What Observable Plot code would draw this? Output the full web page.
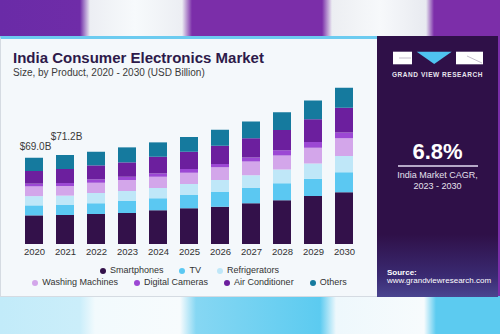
<!DOCTYPE html>
<html>
<head>
<meta charset="utf-8">
<script src="https://cdn.jsdelivr.net/npm/d3@7"></script>
<script src="https://cdn.jsdelivr.net/npm/@observablehq/plot@0.6"></script>
<style>
  html, body { margin: 0; padding: 0; }
  body { width: 500px; height: 334px; overflow: hidden; font-family: "Liberation Sans", Arial, sans-serif; }
  #root { position: relative; width: 500px; height: 334px; overflow: hidden; background: #7b2ea9; }
  .abs { position: absolute; }
  #topband { left: 0; top: 0; width: 500px; height: 37px;
    background: linear-gradient(90deg, #6a2ba7 0px, #6f2ca8 80px, #eceef3 90px, #f7fafc 135px, #eceef3 182px, #7b2ea9 192px, #7b2ea9 322px, #eceef2 332px, #f7f9fb 380px, #e8eaf0 426px, #7c2ea9 434px, #7c2ea9 500px); }
  #bottomband { left: 0; top: 296px; width: 500px; height: 38px;
    background: linear-gradient(90deg, #c2ebf9 0px, #cbeefa 80px, #f2fafd 95px, #f7fbfd 180px, #86d7f3 196px, #5ccbf0 320px, #eef8fc 336px, #f7fbfd 424px, #5ccbf0 436px, #5ccbf0 500px); }
  #card { left: 0; top: 36px; width: 377px; height: 261px; box-sizing: border-box;
    background: #f4f8fb; border-top: 3px solid #6ccbf0; border-left: 1px solid #d5dbe2; border-bottom: 1px solid #d5dbe2; }
  #panel { left: 377px; top: 36px; width: 121px; height: 261px;
    background: linear-gradient(180deg, #2f1048 0%, #2f1048 76%, #3a2a72 92%, #4a4590 100%); }
  #title { left: 13px; top: 50px; font-size: 15px; line-height: 15px; font-weight: 700; color: #2d1a4a; white-space: nowrap; }
  #subtitle { left: 13px; top: 68px; font-size: 10px; line-height: 10px; color: #3a3a3a; white-space: nowrap; }
  #chart { left: 0; top: 36px; }
  .legrow { left: 1px; width: 377px; height: 11px; display: flex; justify-content: center; align-items: center; gap: 16px; font-size: 9px; line-height: 11px; color: #333; white-space: nowrap; }
  .legitem { display: flex; align-items: center; }
  .dot { width: 6px; height: 6px; border-radius: 50%; margin-right: 4px; }
  .ptext { left: 377px; width: 121px; text-align: center; color: #fff; white-space: nowrap; }
</style>
</head>
<body>
<div id="root">
  <div id="topband" class="abs"></div>
  <div id="bottomband" class="abs"></div>
  <div id="card" class="abs"></div>
  <div id="panel" class="abs"></div>
  <div id="title" class="abs"></div>
  <div id="subtitle" class="abs"></div>
  <div id="chart" class="abs"></div>
  <div id="leg1" class="abs legrow" style="top:265px"></div>
  <div id="leg2" class="abs legrow" style="top:277px"></div>
  <svg class="abs" style="left:377px;top:36px" width="121" height="40">
    <rect x="16" y="15.7" width="19" height="12.6" fill="#ffffff"/>
    <line x1="22" y1="22" x2="34" y2="22" stroke="#9a90a8" stroke-width="0.6"/>
    <polygon points="39.7,15.7 74.7,15.7 57.2,28" fill="#4fc3f0"/>
    <rect x="79" y="15.7" width="27" height="12.6" fill="#ffffff"/>
    <line x1="90" y1="20" x2="105" y2="27" stroke="#9a90a8" stroke-width="0.6"/>
  </svg>
  <div class="abs ptext" id="brand" style="top:70.5px;font-size:6.5px;line-height:7px;font-weight:700;letter-spacing:0.55px;color:#e8e4ee"></div>
  <div class="abs ptext" id="cagr" style="top:141px;font-size:22px;line-height:22px;font-weight:700"></div>
  <div class="abs" style="left:398px;top:165px;width:80px;height:1.5px;background:#b6a8c8"></div>
  <div class="abs ptext" id="cagrlbl" style="top:170px;font-size:9px;line-height:10.7px;color:#e6e0ee"></div>
  <div class="abs" id="src" style="left:387px;top:269px;font-size:8px;line-height:8.4px;color:#fff;white-space:nowrap"></div>
</div>
<script>
// ---- Data ----
const years = ["2020","2021","2022","2023","2024","2025","2026","2027","2028","2029","2030"];
const series = ["Smartphones","TV","Refrigerators","Washing Machines","Digital Cameras","Air Conditioner","Others"];
const smartphones     = [22.9, 23.2, 24.0, 24.8, 27.0, 28.6, 29.8, 32.6, 35.0, 38.4, 41.4];
const tv              = [8.0, 8.0, 8.6, 9.6, 9.6, 10.6, 11.8, 12.2, 13.6, 13.8, 16.0];
const refrigerators   = [7.4, 7.5, 8.2, 8.0, 8.2, 8.8, 9.6, 10.2, 11.0, 12.2, 13.0];
const washingMachines = [7.8, 7.7, 8.2, 8.8, 9.0, 9.0, 10.2, 11.0, 11.2, 12.6, 14.2];
const digitalCameras  = [2.2, 2.4, 2.7, 2.6, 2.7, 3.0, 2.6, 3.2, 4.2, 4.6, 4.6];
const airConditioner  = [10.1, 11.2, 11.2, 11.5, 13.3, 13.8, 14.6, 15.4, 16.2, 18.2, 19.8];
const others          = [10.6, 11.2, 10.9, 12.0, 11.5, 11.8, 12.8, 13.4, 14.2, 15.0, 16.0];
const colors = ["#33114a","#5bc8f2","#bfe7f8","#d3a6ea","#9c48d4","#6c1f9e","#157a9e"];
const labelYears = ["2020","2021"];
const labelTexts = ["$69.0B","$71.2B"];
const titleText = "India Consumer Electronics Market";
const subtitleText = "Size, by Product, 2020 - 2030 (USD Billion)";
const brandText = "GRAND VIEW RESEARCH";
const cagrText = "6.8%";
const cagrLabel = ["India Market CAGR,", "2023 - 2030"];
const sourceLines = ["Source:", "www.grandviewresearch.com"];

// ---- Build table ----
const seriesValues = [smartphones, tv, refrigerators, washingMachines, digitalCameras, airConditioner, others];
const data = years.flatMap((yr, i) => series.map((s, j) => ({year: yr, product: s, value: seriesValues[j][i]})));
const totals = years.map((yr, i) => ({year: yr, total: d3.sum(seriesValues, v => v[i])}));
const labels = labelYears.map((yr, k) => ({year: yr, total: totals.find(t => t.year === yr).total, label: labelTexts[k]}));

// ---- Texts ----
document.getElementById("title").textContent = titleText;
document.getElementById("subtitle").textContent = subtitleText;
document.getElementById("brand").textContent = brandText;
document.getElementById("cagr").textContent = cagrText;
document.getElementById("cagrlbl").innerHTML = cagrLabel.map(t => `<div>${t}</div>`).join("");
document.getElementById("src").innerHTML = `<div style="font-weight:700">${sourceLines[0]}</div><div>${sourceLines[1]}</div>`;

// ---- Legend ----
function legendRow(el, names) {
  el.innerHTML = names.map(n => {
    const c = colors[series.indexOf(n)];
    return `<div class="legitem"><div class="dot" style="background:${c}"></div><span>${n}</span></div>`;
  }).join("");
}
legendRow(document.getElementById("leg1"), series.slice(0, 3));
legendRow(document.getElementById("leg2"), series.slice(3));

// ---- Chart ----
const chart = Plot.plot({
  width: 377,
  height: 260,
  marginLeft: 16,
  marginRight: 16,
  marginTop: 45.5,
  marginBottom: 52,
  style: {background: "transparent", fontFamily: "Liberation Sans, Arial, sans-serif", color: "#333", overflow: "visible"},
  x: {domain: years, paddingInner: 0.42, paddingOuter: 0.21},
  y: {domain: [0, 130], axis: null},
  color: {domain: series, range: colors},
  marks: [
    Plot.barY(data, {x: "year", y: "value", fill: "product", order: series}),
    Plot.axisX({tickSize: 0, tickPadding: 4, fontSize: 9.5, fill: "#333", label: null}),
    Plot.text(labels.slice(0, 1), {x: "year", y: "total", text: "label", dy: -11, dx: 1, fontSize: 10, fill: "#3a3a3a"}),
    Plot.text(labels.slice(1, 2), {x: "year", y: "total", text: "label", dy: -19, dx: 1, fontSize: 10, fill: "#3a3a3a"})
  ]
});
document.getElementById("chart").appendChild(chart);
</script>
</body>
</html>
